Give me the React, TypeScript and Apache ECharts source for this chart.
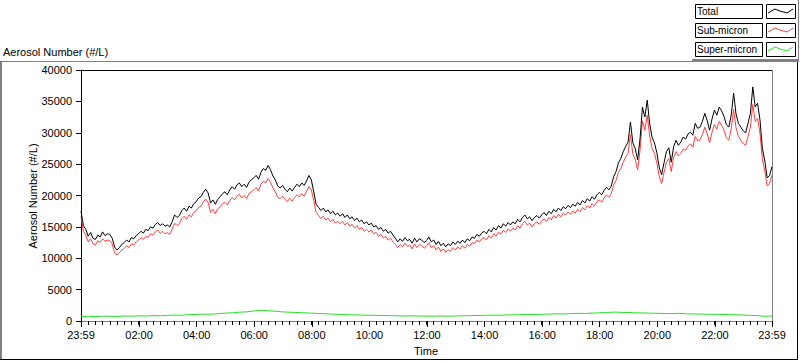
import React, { useEffect, useRef } from 'react';
import * as echarts from 'echarts';

// Sampled every 5 minutes starting at 23:59 (minute -1) through 23:59 (minute 1439)
const totalValues = [
  17500, 15200, 14600, 13500, 14100, 13200, 13000, 13700, 13400, 14200, 13600, 13900,
  13800, 13200, 11800, 11300, 11700, 12200, 12500, 12900, 12600, 13300, 13100, 13600,
  13900, 14300, 14000, 14600, 14400, 15000, 14800, 15400, 15700, 15200, 15500, 15100,
  15300, 15000, 15800, 16900, 16500, 16800, 17600, 18000, 17500, 18300, 18000, 18700,
  19000, 19600, 19800, 20500, 21000, 20400, 18800, 19300, 18600, 19400, 19800, 20300,
  20600, 20100, 20900, 21400, 21000, 21700, 22000, 21400, 21800, 21300, 22100, 22500,
  22800, 23200, 22600, 23700, 24300, 24000, 24800, 24100, 23100, 22500, 21500, 21200,
  21600, 21000, 20600, 21200, 20700, 21300, 21800, 21400, 22000, 21600, 22300, 23200,
  22500, 20600, 18600, 18100, 17600, 18000, 17400, 17700, 17100, 17500, 16900, 17200,
  16700, 17100, 16500, 16900, 16300, 16600, 16000, 16400, 15800, 16100, 15500, 15800,
  15300, 15600, 15000, 15200, 14600, 14900, 14300, 14600, 14000, 14300, 13700, 13200,
  12600, 13100, 12700, 13300, 12800, 13000, 12400, 13200, 12600, 13100, 12900, 12500,
  12800, 13400, 12600, 12900, 12200, 12700, 12000, 12400, 11800, 12300, 12000, 12600,
  12200, 12700, 12400, 12900, 12500, 13100, 12800, 13400, 13200, 13800, 13500, 14000,
  14300, 13900, 14600, 14200, 14900, 14500, 15200, 14800, 15500, 15100, 15700, 15300,
  15800, 15500, 16200, 15800, 16500, 16900, 16300, 16600, 16000, 16500, 16800, 16400,
  16900, 17300, 16800, 17500, 17100, 17800, 17400, 18000, 17600, 18200, 17900, 18400,
  18100, 18600, 18300, 18900, 18500, 19200, 18800, 19500, 19100, 19800, 19400, 20100,
  20500, 20100, 20800, 21300, 20900, 21500, 23000, 23800, 25200, 25900, 27000, 27800,
  28500, 31700, 28400, 27500, 25700, 29000, 34100, 32500, 35200, 31500, 29300, 28400,
  26800, 24500, 23300, 25200, 27000, 27600, 25300, 27800, 28800, 28000, 28500, 29300,
  29000, 29800, 30100, 29600, 31500, 30700, 30900, 31800, 33100, 31900, 30400, 32200,
  33600, 32800, 34100, 33500, 32600, 31300, 30900, 32800, 36300, 33000, 31500, 30900,
  30300, 30000, 31500, 33100, 37300, 34100, 34700, 32000, 27500, 25500, 22800, 23200,
  24600,
];

const subMicronValues = [
  16600, 14300, 13700, 12600, 13100, 12300, 12100, 12800, 12500, 13100, 12700, 12900,
  12800, 12300, 10900, 10500, 10900, 11300, 11600, 12000, 11700, 12300, 12100, 12600,
  12900, 13300, 13000, 13500, 13300, 13900, 13700, 14200, 14500, 14000, 14300, 13900,
  14100, 13800, 14600, 15600, 15200, 15500, 16300, 16700, 16200, 16900, 16600, 17300,
  17600, 18100, 18300, 19000, 19400, 18900, 17300, 17800, 17100, 17900, 18200, 18700,
  18900, 18500, 19200, 19700, 19300, 19900, 20200, 19600, 20000, 19500, 20300, 20600,
  20900, 21300, 20700, 21800, 22300, 22000, 22700, 22100, 21200, 20600, 19700, 19500,
  19900, 19400, 19000, 19600, 19100, 19700, 20100, 19800, 20300, 19900, 20600, 21400,
  20900, 19200, 17300, 16800, 16300, 16700, 16100, 16400, 15800, 16200, 15600, 15900,
  15500, 15900, 15300, 15700, 15100, 15400, 14800, 15200, 14600, 14900, 14300, 14600,
  14200, 14500, 13900, 14100, 13500, 13800, 13200, 13500, 12900, 13200, 12600, 12200,
  11700, 12200, 11800, 12400, 11900, 12100, 11500, 12300, 11700, 12200, 12000, 11600,
  11900, 12500, 11700, 12000, 11300, 11800, 11100, 11500, 10900, 11400, 11100, 11700,
  11300, 11800, 11500, 12000, 11600, 12200, 11900, 12500, 12300, 12900, 12600, 13100,
  13300, 12900, 13600, 13200, 13900, 13500, 14200, 13800, 14500, 14100, 14700, 14300,
  14800, 14500, 15200, 14800, 15500, 15900, 15300, 15600, 15000, 15500, 15800, 15400,
  15900, 16300, 15800, 16500, 16100, 16800, 16400, 17000, 16600, 17200, 16900, 17400,
  17000, 17500, 17200, 17800, 17400, 18100, 17700, 18400, 18000, 18700, 18300, 19000,
  19300, 18900, 19600, 20100, 19700, 20300, 21700, 22400, 23700, 24300, 25300, 26100,
  26700, 29700, 26600, 25800, 24100, 27200, 31900, 30400, 32800, 29500, 27500, 26700,
  25200, 23000, 21900, 23700, 25300, 25900, 23800, 26100, 27000, 26300, 26700, 27400,
  27200, 27900, 28200, 27700, 29400, 28700, 28900, 29700, 30900, 29800, 28400, 30100,
  31300, 30600, 31800, 31200, 30400, 29200, 28800, 30600, 33700, 30800, 29400, 28800,
  28300, 28000, 29400, 30900, 34500, 31800, 32300, 29900, 25700, 23900, 21500, 21900,
  23300,
];

// Sampled every 15 minutes starting at 23:59
const superMicronValues = [
  700, 750, 700, 780,
  760, 720, 800, 770,
  820, 790, 860, 830,
  900, 950, 920, 1000,
  1050, 1100, 1080, 1150,
  1250, 1300, 1400, 1450,
  1600, 1700, 1620, 1550,
  1450, 1400, 1350, 1300,
  1250, 1200, 1150, 1100,
  1050, 1000, 980, 950,
  920, 900, 870, 850,
  830, 800, 820, 790,
  780, 760, 800, 770,
  800, 830, 850, 880,
  900, 940, 920, 960,
  980, 1000, 1050, 1020,
  1080, 1100, 1150, 1120,
  1180, 1220, 1200, 1260,
  1300, 1350, 1420, 1380,
  1350, 1300, 1280, 1250,
  1230, 1200, 1180, 1220,
  1150, 1120, 1100, 1080,
  1060, 1050, 1020, 980,
  950, 900, 850, 750,
  800,
];

const seriesNames = ['Total', 'Sub-micron', 'Super-micron'];
const seriesColors = ['#000000', '#ff4040', '#22e022'];
const xMajorTicks = [-1, 120, 240, 360, 480, 600, 720, 840, 960, 1080, 1200, 1320, 1439];
const yTicks = { min: 0, max: 40000, interval: 5000 };

const totalSeries = totalValues.map((v, i) => [-1 + i * 5, v]);
const subSeries = subMicronValues.map((v, i) => [-1 + i * 5, v]);
const superSeries = superMicronValues.map((v, i) => [-1 + i * 15, v]);

const FONT = '"Liberation Sans", Arial, sans-serif';

function fmtTime(v: number) {
  const m = ((Math.round(v) % 1440) + 1440) % 1440;
  const h = Math.floor(m / 60);
  const mm = m % 60;
  return String(h).padStart(2, '0') + ':' + String(mm).padStart(2, '0');
}

function legendItem(i: number) {
  const y0 = 4 + i * 19;
  const zig = [
    [768, y0 + 9], [775, y0 + 5], [780, y0 + 7], [787, y0 + 9], [793, y0 + 5],
  ];
  return [
    { type: 'rect', shape: { x: 695.5, y: y0 + 0.5, width: 67, height: 14 }, style: { fill: '#fff', stroke: '#000', lineWidth: 1 } },
    { type: 'text', x: 697, y: y0 + 7.5, style: { text: seriesNames[i], font: '10px ' + FONT, fill: '#000', textVerticalAlign: 'middle' } },
    { type: 'rect', shape: { x: 766.5, y: y0 + 0.5, width: 29, height: 14 }, style: { fill: '#fff', stroke: '#000', lineWidth: 1 } },
    { type: 'polyline', shape: { points: zig }, style: { stroke: seriesColors[i], lineWidth: 1, fill: 'none' } },
  ];
}

export default function App() {
  const ref = useRef<HTMLDivElement>(null);
  useEffect(() => {
    if (!ref.current) return;
    const chart = echarts.init(ref.current, null, { renderer: 'svg' });
    const textStyle = { fontFamily: FONT, fontSize: 11, color: '#000' };
    chart.setOption({
      animation: false,
      backgroundColor: '#fff',
      grid: { left: 81, right: 28, top: 70, bottom: 40 },
      xAxis: [
        {
          type: 'value', min: 0, max: 1440, interval: 15, position: 'bottom',
          axisLine: { show: true, lineStyle: { color: '#808080', width: 1 } },
          axisTick: { show: true, length: 4, lineStyle: { color: '#000', width: 1 } },
          axisLabel: { show: false },
          splitLine: { show: false },
        },
        {
          type: 'value', min: -1, max: 1439, position: 'bottom',
          axisLine: { show: false },
          axisTick: { show: true, customValues: xMajorTicks, length: 6, lineStyle: { color: '#000', width: 1 } },
          axisLabel: { show: true, customValues: xMajorTicks, formatter: (v: number) => fmtTime(v), margin: 8, ...textStyle },
          splitLine: { show: false },
        },
      ],
      yAxis: {
        type: 'value', min: yTicks.min, max: yTicks.max, interval: yTicks.interval,
        axisLine: { show: true, lineStyle: { color: '#000', width: 1 } },
        axisTick: { show: true, length: 5, lineStyle: { color: '#000' } },
        axisLabel: { margin: 9, formatter: (v: number) => String(v), ...textStyle },
        splitLine: { show: false },
      },
      series: [
        { name: seriesNames[2], type: 'line', data: superSeries, showSymbol: false, xAxisIndex: 1, lineStyle: { width: 1, color: seriesColors[2] }, itemStyle: { color: seriesColors[2] } },
        { name: seriesNames[1], type: 'line', data: subSeries, showSymbol: false, xAxisIndex: 1, lineStyle: { width: 1, color: seriesColors[1] }, itemStyle: { color: seriesColors[1] } },
        { name: seriesNames[0], type: 'line', data: totalSeries, showSymbol: false, xAxisIndex: 1, lineStyle: { width: 1, color: seriesColors[0] }, itemStyle: { color: seriesColors[0] } },
      ],
      graphic: [
        { type: 'line', shape: { x1: 0, y1: 61.5, x2: 692, y2: 61.5 }, style: { stroke: '#808080', lineWidth: 1 } },
        { type: 'line', shape: { x1: 692, y1: 60.5, x2: 799, y2: 60.5 }, style: { stroke: '#808080', lineWidth: 3 } },
        { type: 'line', shape: { x1: 798.5, y1: 0, x2: 798.5, y2: 60 }, style: { stroke: '#808080', lineWidth: 1 } },
        { type: 'line', shape: { x1: 1, y1: 61, x2: 1, y2: 359 }, style: { stroke: '#808080', lineWidth: 2 } },
        { type: 'line', shape: { x1: 797.5, y1: 62, x2: 797.5, y2: 360 }, style: { stroke: '#000', lineWidth: 1 } },
        { type: 'line', shape: { x1: 0, y1: 359.5, x2: 798, y2: 359.5 }, style: { stroke: '#000', lineWidth: 1 } },
        { type: 'line', shape: { x1: 81, y1: 70.5, x2: 772, y2: 70.5 }, style: { stroke: '#000', lineWidth: 1 } },
        { type: 'line', shape: { x1: 772.5, y1: 70, x2: 772.5, y2: 321 }, style: { stroke: '#808080', lineWidth: 1 } },
        { type: 'text', x: 3, y: 52, style: { text: 'Aerosol Number (#/L)', font: '11px ' + FONT, fill: '#000', textVerticalAlign: 'middle' } },
        { type: 'text', x: 33, y: 196, rotation: Math.PI / 2, style: { text: 'Aerosol Number (#/L)', font: '11px ' + FONT, fill: '#000', textAlign: 'center', textVerticalAlign: 'middle' } },
        { type: 'text', x: 426, y: 351, style: { text: 'Time', font: '11px ' + FONT, fill: '#000', textAlign: 'center', textVerticalAlign: 'middle' } },
        ...legendItem(0),
        ...legendItem(1),
        ...legendItem(2),
      ],
    });
    return () => chart.dispose();
  }, []);
  return <div ref={ref} style={{ position: 'fixed', left: 0, top: 0, width: 800, height: 361 }} />;
}
